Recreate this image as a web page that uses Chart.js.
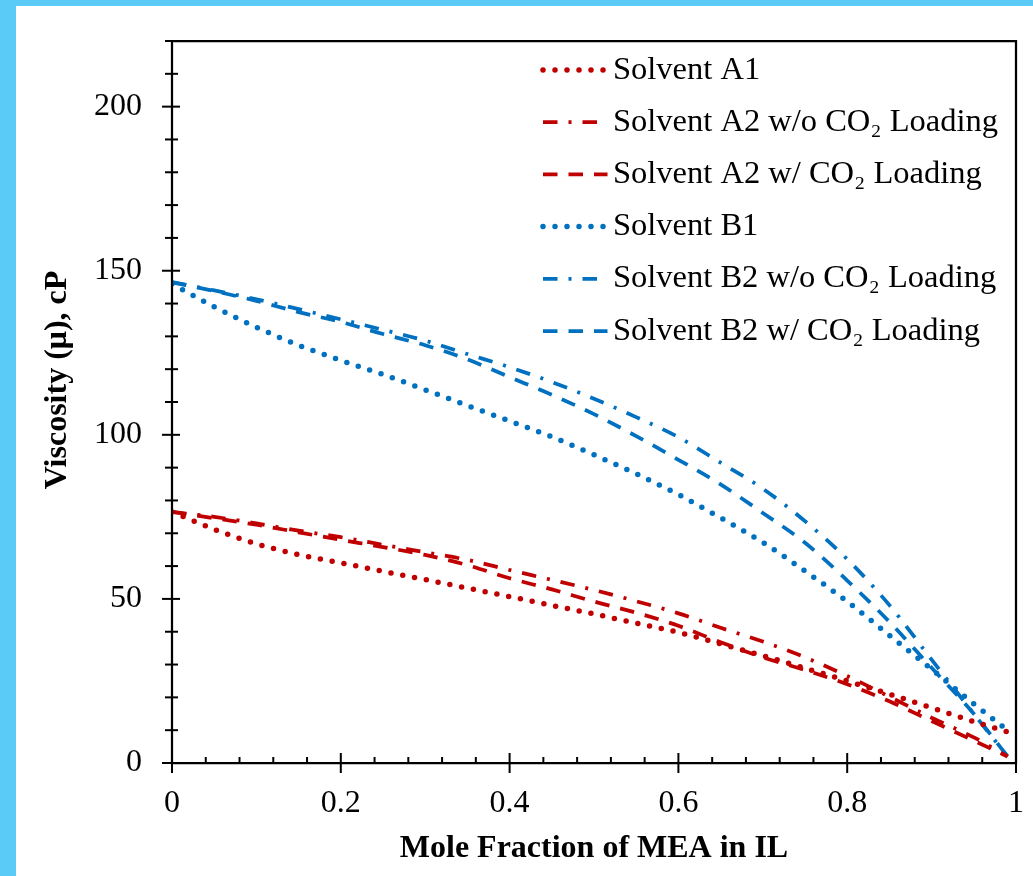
<!DOCTYPE html>
<html>
<head>
<meta charset="utf-8">
<script src="https://cdn.jsdelivr.net/npm/chart.js@4.4.1/dist/chart.umd.min.js"></script>
<style>
    html, body { margin: 0; padding: 0; background: #5ACBF6; }
    #wrap { position: relative; width: 1033px; height: 876px; background: #5ACBF6; overflow: hidden; }
    #box { position: absolute; left: 16px; top: 6px; width: 1017px; height: 870px; background: #fff; }
</style>
</head>
<body>
<div id="wrap"><div id="box"><canvas id="viscChart" width="1017" height="870"></canvas></div></div>
<script>
// valores (viscosidade em cP x fração molar de MEA)
const moleFraction = [0, 0.05, 0.1, 0.15, 0.2, 0.25, 0.3, 0.35, 0.4, 0.45, 0.5, 0.55, 0.6, 0.65, 0.7, 0.75, 0.8, 0.85, 0.9, 0.95, 0.99];

const solventA1     = [76.5, 71.2, 66.8, 63.5, 61, 58.4, 55.9, 53.3, 50.7, 48, 45.4, 42.6, 39.8, 36.3, 32.7, 28.9, 25, 21, 16.8, 12.6, 9.5];
const solventA2NoCO2 = [76.5, 75, 73, 70.8, 68.8, 66.5, 64.2, 61.9, 58.8, 55.8, 52.7, 49.3, 45.6, 41.2, 37, 32.2, 26.5, 20.2, 13.8, 7.8, 2];
const solventA2CO2   = [76.5, 74.6, 72.6, 70.3, 68, 65.8, 63.4, 60.3, 56.3, 52.9, 49.2, 45.8, 41.8, 36.8, 32.2, 28.3, 24, 18.8, 12.8, 6.8, 2];
const solventB1     = [146, 139, 132.8, 127.3, 122.7, 118.4, 113.7, 108.9, 104.2, 99.4, 93.9, 88.1, 81.8, 74.7, 67.2, 58.5, 49.2, 38.9, 28.6, 18, 10];
const solventB2NoCO2 = [146.5, 144, 141.3, 138.3, 135.2, 132, 128.7, 124.6, 120.6, 116.1, 111, 105.4, 99.3, 91.5, 83.6, 73.7, 62.1, 48.1, 31.5, 15, 2];
const solventB2CO2   = [146.5, 143.8, 140.8, 137.4, 134.4, 130.7, 127.3, 123, 117.6, 112.2, 106.3, 99.6, 92.4, 84.9, 76.2, 67.1, 55.6, 43, 29, 15, 2];

const seriesLabels = [
    'Solvent A1',
    'Solvent A2 w/o CO\u2082 Loading',
    'Solvent A2 w/ CO\u2082 Loading',
    'Solvent B1',
    'Solvent B2 w/o CO\u2082 Loading',
    'Solvent B2 w/ CO\u2082 Loading'
];

const xTickLabels = ['0', '0.2', '0.4', '0.6', '0.8', '1'];

const RED = '#C00000';
const BLUE = '#0070C0';
const FONT = "'Liberation Serif', 'Times New Roman', serif";

const DOTTED = { borderDash: [0, 12], borderCapStyle: 'round', borderWidth: 5.5 };
const DASHDOT = { borderDash: [14.5, 11, 3, 11], borderCapStyle: 'butt', borderWidth: 3.75 };
const DASHED = { borderDash: [14.5, 11], borderCapStyle: 'butt', borderWidth: 3.75 };

function toPoints(values) {
    return values.map((v, i) => ({ x: moleFraction[i], y: v }));
}

function makeSet(label, values, color, style) {
    return Object.assign({
        label: label,
        data: toPoints(values),
        borderColor: color,
        backgroundColor: color,
        pointRadius: 0,
        fill: false,
        tension: 0.4,
        cubicInterpolationMode: 'monotone'
    }, style);
}

// eixos, ticks cruzados, moldura, título do eixo y e legenda
const framePlugin = {
    id: 'framePlugin',
    afterDraw(chart) {
        const { ctx, chartArea: a, scales: { x, y } } = chart;
        ctx.save();
        ctx.strokeStyle = '#000';
        ctx.setLineDash([]);
        ctx.lineCap = 'butt';

        // ticks do eixo y
        ctx.lineWidth = 2;
        for (let v = 0; v <= 220; v += 10) {
            const py = y.getPixelForValue(v);
            const major = v % 50 === 0;
            ctx.beginPath();
            ctx.moveTo(a.left - (major ? 10 : 7), py);
            ctx.lineTo(a.left + (major ? 8 : 6), py);
            ctx.stroke();
        }
        // ticks do eixo x
        for (let i = 0; i <= 25; i++) {
            const v = i * 0.04;
            const px = x.getPixelForValue(v);
            const major = i % 5 === 0;
            ctx.beginPath();
            ctx.moveTo(px, a.bottom - (major ? 10 : 6));
            ctx.lineTo(px, a.bottom + (major ? 10 : 0));
            ctx.stroke();
        }

        // moldura
        ctx.lineWidth = 2.25;
        ctx.beginPath();
        ctx.rect(a.left, a.top, a.right - a.left, a.bottom - a.top);
        ctx.stroke();

        // título do eixo y
        ctx.fillStyle = '#000';
        ctx.font = 'bold 32px ' + FONT;
        ctx.textAlign = 'center';
        ctx.textBaseline = 'alphabetic';
        ctx.save();
        ctx.translate(50, 374);
        ctx.rotate(-Math.PI / 2);
        ctx.fillText('Viscosity (\u03bc), cP', 0, 0);
        ctx.restore();

        // legenda
        ctx.font = '32.5px ' + FONT;
        ctx.textAlign = 'left';
        chart.data.datasets.forEach((ds, i) => {
            const cy = 64 + i * 52.2;
            const isDashDot = ds.borderDash.length === 4;
            ctx.save();
            ctx.strokeStyle = ds.borderColor;
            ctx.lineWidth = ds.borderWidth;
            ctx.lineCap = ds.borderCapStyle;
            ctx.setLineDash(ds.borderDash);
            ctx.beginPath();
            ctx.moveTo(527, cy);
            ctx.lineTo(isDashDot ? 581.5 : 591.5, cy);
            ctx.stroke();
            ctx.restore();
            ctx.fillText(ds.label, 597, cy + 8.5);
        });

        ctx.restore();
    }
};

const ctx = document.getElementById('viscChart').getContext('2d');
new Chart(ctx, {
    type: 'line',
    data: {
        datasets: [
            makeSet(seriesLabels[0], solventA1, RED, DOTTED),
            makeSet(seriesLabels[1], solventA2NoCO2, RED, DASHDOT),
            makeSet(seriesLabels[2], solventA2CO2, RED, DASHED),
            makeSet(seriesLabels[3], solventB1, BLUE, DOTTED),
            makeSet(seriesLabels[4], solventB2NoCO2, BLUE, DASHDOT),
            makeSet(seriesLabels[5], solventB2CO2, BLUE, DASHED)
        ]
    },
    options: {
        responsive: false,
        animation: false,
        devicePixelRatio: 1,
        layout: { padding: { top: 35, right: 17, left: 0, bottom: 0 } },
        plugins: {
            legend: { display: false },
            tooltip: { enabled: false }
        },
        scales: {
            x: {
                type: 'linear',
                min: 0,
                max: 1,
                grid: { display: false, drawTicks: false, tickLength: 0 },
                border: { display: false },
                ticks: {
                    stepSize: 0.2,
                    padding: 21,
                    color: '#000',
                    font: { family: FONT, size: 32 },
                    maxRotation: 0,
                    callback: (v) => xTickLabels[Math.round(v / 0.2)]
                },
                title: {
                    display: true,
                    text: 'Mole Fraction of MEA in IL',
                    color: '#000',
                    font: { family: FONT, size: 32, weight: 'bold', lineHeight: 1 },
                    padding: { top: 0, bottom: 11 }
                },
                afterFit: (scale) => {
                    scale.height = 113;
                    scale.paddingLeft = 0;
                    scale.paddingRight = 0;
                }
            },
            y: {
                type: 'linear',
                min: 0,
                max: 220,
                grid: { display: false, drawTicks: false, tickLength: 0 },
                border: { display: false },
                ticks: {
                    stepSize: 50,
                    includeBounds: false,
                    padding: 30,
                    color: '#000',
                    font: { family: FONT, size: 32 },
                    callback: (v) => (v % 50 === 0 ? String(v) : '')
                },
                afterFit: (scale) => {
                    scale.width = 156;
                    scale.paddingTop = 0;
                    scale.paddingBottom = 0;
                }
            }
        }
    },
    plugins: [framePlugin]
});
</script>
</body>
</html>
